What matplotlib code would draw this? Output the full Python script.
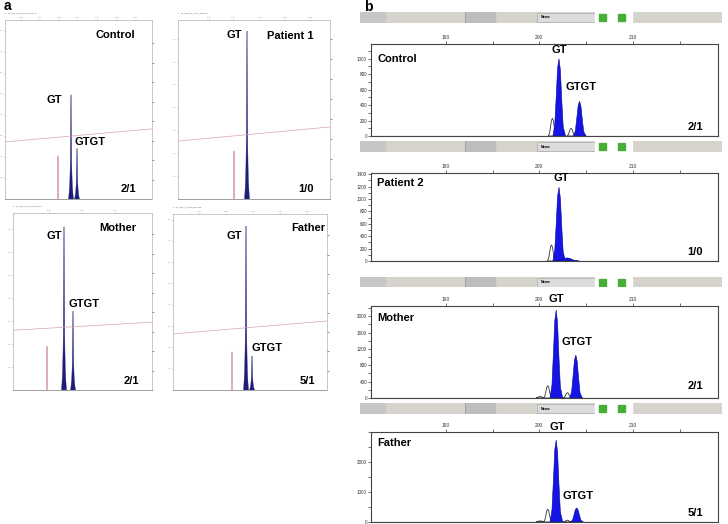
import numpy as np
import matplotlib.pyplot as plt
from matplotlib.patches import Rectangle
from matplotlib.ticker import AutoMinorLocator

plt.rcParams['font.family'] = ['Liberation Sans', 'DejaVu Sans']

W, H = 728, 524

# ---------------- data, panel a (GeneScan traces) ----------------
a_names = ["Control", "Patient 1", "Mother", "Father"]
a_ratio = ["2/1", "1/0", "2/1", "5/1"]
a_files = ["1  Yu_Ch5_CON_0001_B03.fsa", "1  Yu_Ch5_P1_0005_B05.fsa",
           "1  Yu_Ch5_M_0002_B04.fsa", "1  Yu_Ch5_F_0003_B06.fsa"]
a_xmax = [147, 152, 139, 154]
a_ymax = [8.5, 7.85, 7.7, 8.26]
a_y2max = [9.2, 8.95, 9.1, 9.1]
a_gt = [(66, 4.95), (69, 7.37), (51, 7.1), (73, 7.7)]
a_gtgt = [(72, 2.4), None, (60, 3.43), (79, 1.6)]
a_red = [(53, 2.05), (56, 2.1), (34, 1.9), (59, 1.78)]
a_red_line = [(2.71, 3.33), (2.54, 3.16), (2.6, 2.95), (2.63, 3.24)]
a_top_ticks = [[16, 34, 54, 72, 92, 112, 130], [31, 55, 82, 107, 132],
               [36, 69, 102], [26, 53, 80, 107, 134]]
a_top_labels = [["1800", "1900", "2000", "2100", "2200", "2300", "2400"],
                ["2000", "2100", "2200", "2300", "2400"],
                ["2000", "2100", "2200"],
                ["1900", "2000", "2100", "2200", "2300"]]
# peak outline (x offset, fraction of height)
a_dx = np.array([-2.4, -1.3, -0.6, -0.2, 0, 0.2, 0.6, 1.3, 2.4])
a_fr = np.array([0, 0.12, 0.35, 0.8, 1, 0.8, 0.35, 0.12, 0])
red_dx = np.array([-0.7, -0.3, 0, 0.3, 0.7])
red_fr = np.array([0, 0.6, 1, 0.6, 0])

# ---------------- data, panel b (GeneMapper traces) ----------------
b_names = ["Control", "Patient 2", "Mother", "Father"]
b_ratio = ["2/1", "1/0", "2/1", "5/1"]
b_xlim = (182.0, 219.1)
b_size_ticks = [190, 200, 210]
b_ymax = [1190, 1420, 2250, 3000]
b_ystep = [200, 200, 400, 1000]
b_blue = [[(202.1, 1000, 1.0), (204.3, 450, 1.0)],
          [(202.1, 1190, 1.0), (203.0, 50, 1.8)],
          [(201.8, 2150, 1.0), (203.9, 1050, 1.0)],
          [(201.8, 2730, 1.0), (204.0, 470, 1.0)]]
b_white = [[(201.4, 230), (203.4, 100)],
           [(201.3, 260)],
           [(200.1, 40), (200.9, 300), (203.0, 130)],
           [(200.1, 40), (200.9, 430), (203.0, 60)]]
b_dx = np.array([-0.65, -0.45, -0.3, -0.15, 0, 0.15, 0.3, 0.45, 0.7])
b_fr = np.array([0, 0.15, 0.5, 0.88, 1, 0.85, 0.45, 0.12, 0])

# ---------------- layout (pixels) ----------------
a_box = [(5, 20, 152, 199), (178, 20, 330, 199), (13, 213, 152, 390), (173, 214, 327, 390)]
a_txt = [[(115, 35, "name"), (54, 100, "GT"), (90, 142, "GTGT"), (128, 189, "ratio")],
         [(290, 36, "name"), (234, 35, "GT"), (306, 189, "ratio")],
         [(118, 228, "name"), (54, 236, "GT"), (84, 304, "GTGT"), (131, 381, "ratio")],
         [(308, 228, "name"), (234, 236, "GT"), (267, 348, "GTGT"), (307, 381, "ratio")]]
b_bar = [(12, 23), (141, 152), (277, 287), (403, 414)]
b_box = [(371, 44, 718, 136), (371, 173, 718, 261), (371, 306, 718, 398), (371, 432, 718, 522)]
b_txt = [[(559, 50, "GT"), (581, 87, "GTGT")],
         [(561, 178, "GT")],
         [(556, 299, "GT"), (577, 342, "GTGT")],
         [(557, 427, "GT"), (578, 496, "GTGT")]]
b_name_y = [59, 183, 318, 443]
b_ratio_y = [127, 252, 386, 513]


def box(x0, y0, x1, y1):
    return [x0 / W, 1 - y1 / H, (x1 - x0) / W, (y1 - y0) / H]


fig = plt.figure(figsize=(W / 100, H / 100), dpi=100)


def txt(x, y, s, ha='center', size=8, weight='bold'):
    fig.text(x / W, 1 - y / H, s, ha=ha, va='center', fontsize=size, fontweight=weight)


txt(7, 6, "a", size=10)
txt(368, 7, "b", size=10)

# ---- panel a ----
for i in range(4):
    x0, y0, x1, y1 = a_box[i]
    ax = fig.add_axes(box(x0, y0, x1, y1))
    ax.set_xlim(0, a_xmax[i])
    ax.set_ylim(0, a_ymax[i])
    ax.plot([0, a_xmax[i]], a_red_line[i], color='#d9a3a8', lw=0.5)
    rx, rh = a_red[i]
    ax.plot(rx + red_dx, rh * red_fr, color='#d48c94', lw=0.5)
    for pk in [a_gt[i], a_gtgt[i]]:
        if pk:
            ax.fill(pk[0] + a_dx, pk[1] * a_fr, color='#1e1e78', lw=0.3)
    for s in ax.spines.values():
        s.set_color('#b0b0b0')
        s.set_linewidth(0.5)
    ax.spines['bottom'].set_color('#777777')
    ax.spines['bottom'].set_linestyle((0, (1, 1)))
    ax.xaxis.tick_top()
    ax.set_xticks(a_top_ticks[i])
    ax.set_xticklabels(a_top_labels[i], fontsize=1.6)
    ny = int(a_ymax[i])
    ax.set_yticks(range(1, ny + 1))
    ax.set_yticklabels([str(k * 100) for k in range(1, ny + 1)], fontsize=1.5)
    ax.tick_params(length=1, width=0.4, colors='#888888', pad=0.2)
    ax2 = ax.twinx()
    ax2.set_ylim(0, a_y2max[i])
    ax2.set_yticks(range(1, 9))
    ax2.tick_params(labelright=False, length=1.5, width=0.5, colors='#666666')
    for s in ax2.spines.values():
        s.set_visible(False)
    fig.text(x0 / W, 1 - (y0 - 6.5) / H, a_files[i], fontsize=1.6, color='#555555', va='center')
    for tx, ty, kind in a_txt[i]:
        s = a_names[i] if kind == "name" else a_ratio[i] if kind == "ratio" else kind
        txt(tx, ty, s)

# ---- panel b ----
for i in range(4):
    by0, by1 = b_bar[i]
    bar = fig.add_axes(box(360, by0, 722, by1))
    bar.set_xlim(360, 722)
    bar.set_ylim(0, 1)
    bar.axis('off')
    bar.add_patch(Rectangle((360, 0), 362, 1, color='#d6d3cc'))
    bar.add_patch(Rectangle((360, 0), 25, 1, color='#c6c6c6'))
    bar.add_patch(Rectangle((466, 0), 29, 1, color='#bdbdbd'))
    bar.plot([465, 465], [0, 1], color='#9a9a9a', lw=0.6)
    bar.add_patch(Rectangle((537, 0.05), 58, 0.9, facecolor='#dcdcdc', edgecolor='#a0a0a0', lw=0.4))
    bar.text(541, 0.5, "Name", fontsize=2.5, fontweight='bold', va='center')
    bar.add_patch(Rectangle((595, 0), 18, 1, color='white'))
    bar.add_patch(Rectangle((614, 0), 18, 1, color='white'))
    bar.add_patch(Rectangle((599, 0.15), 7, 0.7, color='#46b034'))
    bar.add_patch(Rectangle((618, 0.15), 7, 0.7, color='#46b034'))

    ax = fig.add_axes(box(*b_box[i]))
    ax.set_xlim(*b_xlim)
    ax.set_ylim(0, b_ymax[i])
    for c, h in b_white[i]:
        ax.fill(c + 0.7 * b_dx, h * b_fr, facecolor='white', edgecolor='#333333', lw=0.6)
    for c, h, w in b_blue[i]:
        ax.fill(c + w * b_dx, h * b_fr, facecolor='#1414e6', edgecolor='#0a0a8a', lw=0.4)
    ax.plot(b_xlim, [0, 0], color='#777777', lw=0.8)
    for s in ax.spines.values():
        s.set_color('#444444')
        s.set_linewidth(0.8)
    ax.xaxis.tick_top()
    ax.set_xticks(b_size_ticks)
    ax.set_xticks([195, 205, 215], minor=True)
    ax.set_xticklabels([str(v) for v in b_size_ticks], fontsize=3.5)
    ax.set_yticks(np.arange(0, b_ymax[i], b_ystep[i]))
    ax.yaxis.set_minor_locator(AutoMinorLocator(2))
    ax.tick_params(axis='y', labelsize=3.3, pad=0.8)
    ax.tick_params(which='both', length=2, width=0.5, colors='#333333')
    ax.tick_params(axis='x', which='both', pad=1)
    txt(377, b_name_y[i], b_names[i], ha='left')
    txt(695, b_ratio_y[i], b_ratio[i])
    for tx, ty, s in b_txt[i]:
        txt(tx, ty, s)

fig.savefig("out.png", dpi=100)
